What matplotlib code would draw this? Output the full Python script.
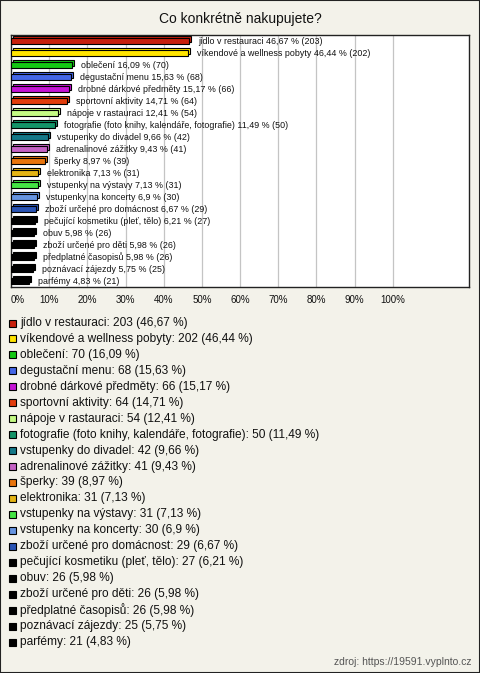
import matplotlib
matplotlib.use('Agg')
import matplotlib.pyplot as plt
from matplotlib.patches import Rectangle
from matplotlib.transforms import ScaledTranslation

plt.rcParams['font.family'] = ['Liberation Sans', 'DejaVu Sans']

categories = ['jídlo v restauraci', 'víkendové a wellness pobyty', 'oblečení', 'degustační menu',
              'drobné dárkové předměty', 'sportovní aktivity', 'nápoje v rastauraci',
              'fotografie (foto knihy, kalendáře, fotografie)', 'vstupenky do divadel',
              'adrenalinové zážitky', 'šperky', 'elektronika', 'vstupenky na výstavy',
              'vstupenky na koncerty', 'zboží určené pro domácnost', 'pečující kosmetiku (pleť, tělo)',
              'obuv', 'zboží určené pro děti', 'předplatné časopisů', 'poznávací zájezdy', 'parfémy']
counts = [203, 202, 70, 68, 66, 64, 54, 50, 42, 41, 39, 31, 31, 30, 29, 27, 26, 26, 26, 25, 21]
percents = [46.67, 46.44, 16.09, 15.63, 15.17, 14.71, 12.41, 11.49, 9.66, 9.43, 8.97, 7.13, 7.13,
            6.9, 6.67, 6.21, 5.98, 5.98, 5.98, 5.75, 4.83]
colors = ['#c8200c', '#ffe400', '#14c814', '#4466e6', '#c414d4', '#e23c0c', '#c4fa84', '#149468',
          '#147888', '#c462c4', '#e8740c', '#e4b414', '#44e444', '#6694e0', '#2a54b4',
          '#000000', '#000000', '#000000', '#000000', '#000000', '#000000']
xticks = [0, 10, 20, 30, 40, 50, 60, 70, 80, 90, 100]

bg = '#f3f2ea'
W, H = 480, 673
fig = plt.figure(figsize=(W / 100, H / 100), dpi=100, facecolor=bg)

def fx(px):
    return px / W

def fy(py):
    return 1 - py / H

# outer frame
fig.patches.append(Rectangle((0, 0), 1, 1, transform=fig.transFigure, fill=False,
                             edgecolor='#222222', linewidth=1.5))

fig.text(0.5, fy(19), 'Co konkrétně nakupujete?', ha='center', va='center',
         fontsize=10, color='#111111')

ax = fig.add_axes([fx(11), fy(287), fx(458), 252 / H])
ax.set_facecolor('white')
ax.set_xlim(0, 120)
n = len(categories)
ax.set_ylim(n, 0)
for s in ax.spines.values():
    s.set_color('#222222')
    s.set_linewidth(1)
for t in xticks[1:]:
    ax.axvline(t, color='#c4c4c4', linewidth=0.9, zorder=0)

ypos = [i + 0.5 for i in range(n)]
shadow = ax.transData + ScaledTranslation(2 / 100, 2 / 100, fig.dpi_scale_trans)
ax.barh(ypos, percents, height=0.45, color=colors, edgecolor='black', linewidth=0.8,
        transform=shadow, zorder=2)
ax.barh(ypos, percents, height=0.45, color=colors, edgecolor='black', linewidth=0.8, zorder=3)

for y, c, p, k in zip(ypos, categories, percents, counts):
    ps = f'{p:g}'.replace('.', ',')
    ax.annotate(f'{c} {ps} % ({k})', xy=(p, y), xytext=(6.5, 0), textcoords='offset points',
                ha='left', va='center', fontsize=6.4, color='#111111', zorder=4)

ax.set_yticks([])
ax.set_xticks(xticks)
ax.set_xticklabels([f'{t}%' for t in xticks], fontsize=7, color='#111111')
ax.get_xticklabels()[0].set_ha('left')
ax.tick_params(axis='x', length=0, pad=6)

# legend
y0, dy = 323, 15.95
for i, (c, p, k, col) in enumerate(zip(categories, percents, counts, colors)):
    y = y0 + i * dy
    fig.patches.append(Rectangle((fx(9), fy(y + 3.5)), fx(7), 7 / H, transform=fig.transFigure,
                                 facecolor=col, edgecolor='black', linewidth=0.8))
    ps = f'{p:g}'.replace('.', ',')
    fig.text(fx(20), fy(y), f'{c}: {k} ({ps} %)', ha='left', va='center',
             fontsize=8.6, color='#111111')

fig.text(fx(471), fy(662), 'zdroj: https://19591.vyplnto.cz', ha='right', va='center',
         fontsize=7.5, color='#555555')

fig.savefig('out.png', dpi=100, facecolor=bg)
